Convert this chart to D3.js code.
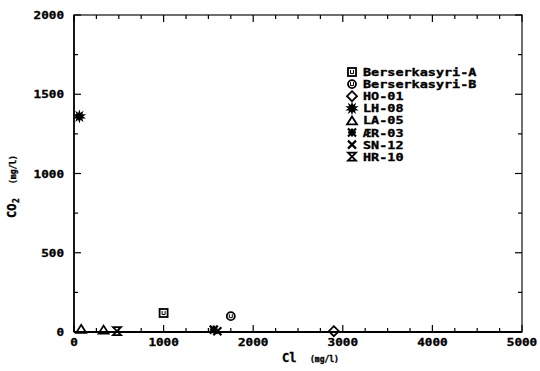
<!DOCTYPE html>
<html>
<head>
<meta charset="utf-8">
<script src="https://cdn.jsdelivr.net/npm/d3@7"></script>
<style>
  body { margin: 0; background: #fff; }
  svg { display: block; overflow: hidden; }
  text { font-family: "DejaVu Sans Mono", "Liberation Mono", monospace; font-weight: bold; fill: #000; stroke: #000; stroke-width: 0.35; }
</style>
</head>
<body>
<svg id="chart" width="540" height="371"></svg>
<script>
// sample names, in legend order
const names = ["Berserkasyri-A", "Berserkasyri-B", "HO-01", "LH-08", "LA-05", "ÆR-03", "SN-12", "HR-10"];
const symbols = ["squareU", "circleU", "diamond", "star", "triangle", "asterisk", "cross", "hourglass"];
// Cl (mg/l) and CO2 (mg/l) per sample
const clVals = [[1000], [1750], [2900], [60], [80, 330], [1560], [1600], [480, 1620]];
const co2Vals = [[120], [100], [5], [1360], [20, 15], [15], [5], [5]];
const xTicks = [0, 1000, 2000, 3000, 4000, 5000];
const yTicks = [0, 500, 1000, 1500, 2000];

const svg = d3.select("#chart");
const L = 74, R = 522, T = 15, B = 332;
const x = d3.scaleLinear().domain([0, 5000]).range([L, R]);
const y = d3.scaleLinear().domain([0, 2000]).range([B, T]);

// frame
svg.append("rect").attr("x", L).attr("y", T).attr("width", R - L).attr("height", B - T)
    .attr("fill", "none").attr("stroke", "#222").attr("stroke-width", 1.3);
svg.append("line").attr("x1", L).attr("x2", R).attr("y1", B).attr("y2", B)
    .attr("stroke", "#000").attr("stroke-width", 2.2);
svg.append("line").attr("x1", L).attr("x2", L).attr("y1", T).attr("y2", B)
    .attr("stroke", "#000").attr("stroke-width", 1.6);

// inward ticks on all four sides
const xMinor = d3.range(0, 5001, 250);
const yMinor = d3.range(0, 2001, 250);
xMinor.forEach(v => {
    const len = v % 1000 === 0 ? 7 : 4;
    svg.append("line").attr("x1", x(v)).attr("x2", x(v)).attr("y1", B).attr("y2", B - len).attr("stroke", "#000").attr("stroke-width", 1.2);
    svg.append("line").attr("x1", x(v)).attr("x2", x(v)).attr("y1", T).attr("y2", T + len).attr("stroke", "#000").attr("stroke-width", 1.2);
});
yMinor.forEach(v => {
    const len = v % 500 === 0 ? 7 : 4;
    svg.append("line").attr("y1", y(v)).attr("y2", y(v)).attr("x1", L).attr("x2", L + len).attr("stroke", "#000").attr("stroke-width", 1.2);
    svg.append("line").attr("y1", y(v)).attr("y2", y(v)).attr("x1", R).attr("x2", R - len).attr("stroke", "#000").attr("stroke-width", 1.2);
});

// tick labels
svg.selectAll(".xl").data(xTicks).enter().append("text")
    .attr("x", d => x(d)).attr("y", 346).attr("text-anchor", "middle")
    .attr("font-size", 11).text(d => d)
    .attr("textLength", d => String(d).length * 7.6).attr("lengthAdjust", "spacingAndGlyphs");
svg.selectAll(".yl").data(yTicks).enter().append("text")
    .attr("x", 64).attr("y", d => y(d) + 4).attr("text-anchor", "end")
    .attr("font-size", 11).text(d => d)
    .attr("textLength", d => String(d).length * 7.6).attr("lengthAdjust", "spacingAndGlyphs");

// axis titles
svg.append("text").attr("x", 282).attr("y", 362).attr("font-size", 12).text("Cl");
svg.append("text").attr("x", 310).attr("y", 362).attr("font-size", 8).text("(mg/l)");
const yt = svg.append("g").attr("transform", "translate(16,0) rotate(-90)");
yt.append("text").attr("x", -218).attr("y", 0).attr("font-size", 12).text("CO");
yt.append("text").attr("x", -203).attr("y", 3).attr("font-size", 8).text("2");
yt.append("text").attr("x", -184).attr("y", 0).attr("font-size", 8).text("(mg/l)");

// marker drawing
function drawMarker(g, type, cx, cy) {
    if (!isFinite(cx) || !isFinite(cy)) return;
    const s = 4;
    const m = g.append("g").attr("class", "mk-" + type).attr("transform", `translate(${cx},${cy})`);
    if (type === "squareU") {
        m.append("rect").attr("x", -s).attr("y", -s).attr("width", 2 * s).attr("height", 2 * s)
            .attr("fill", "none").attr("stroke", "#000").attr("stroke-width", 1.8);
        m.append("path").attr("d", "M-1.5,-2V1.5H1.5V-2").attr("fill", "none").attr("stroke", "#000").attr("stroke-width", 1);
    } else if (type === "circleU") {
        m.append("circle").attr("r", s).attr("fill", "none").attr("stroke", "#000").attr("stroke-width", 1.8);
        m.append("path").attr("d", "M-1.5,-2V1.5H1.5V-2").attr("fill", "none").attr("stroke", "#000").attr("stroke-width", 1);
    } else if (type === "diamond") {
        m.append("path").attr("d", `M0,${-s - 1}L${s + 1},0L0,${s + 1}L${-s - 1},0Z`)
            .attr("fill", "none").attr("stroke", "#000").attr("stroke-width", 1.8);
    } else if (type === "star") {
        const st = d3.symbol().type(d3.symbolStar).size(55)();
        m.append("path").attr("d", st).attr("fill", "#000");
        m.append("path").attr("d", st).attr("fill", "#000").attr("transform", "rotate(36)");
    } else if (type === "triangle") {
        m.append("path").attr("d", `M0,${-s}L${s + 1},${s}L${-s - 1},${s}Z`)
            .attr("fill", "none").attr("stroke", "#000").attr("stroke-width", 1.8);
    } else if (type === "asterisk") {
        m.append("path").attr("d", `M${-s},${-s}L${s},${s}M${s},${-s}L${-s},${s}M${-s},0H${s}M0,${-s}V${s}`)
            .attr("stroke", "#000").attr("stroke-width", 2.2);
    } else if (type === "cross") {
        m.append("path").attr("d", `M${-s},${-s}L${s},${s}M${s},${-s}L${-s},${s}`)
            .attr("stroke", "#000").attr("stroke-width", 2.2);
    } else if (type === "hourglass") {
        m.append("path").attr("d", `M${-s},${-s}H${s}L${-s},${s}H${s}Z`)
            .attr("fill", "none").attr("stroke", "#000").attr("stroke-width", 1.8);
    }
}

// data points
const pts = svg.append("g");
names.forEach((n, i) => {
    clVals[i].forEach((c, j) => drawMarker(pts, symbols[i], x(c), y(co2Vals[i][j])));
});

// legend
const leg = svg.append("g");
names.forEach((n, i) => {
    const ly = 72 + i * 12.1;
    drawMarker(leg, symbols[i], 352, ly);
    leg.append("text").attr("x", 363).attr("y", ly + 4).attr("font-size", 11).text(n)
        .attr("textLength", n.length * 8.1).attr("lengthAdjust", "spacingAndGlyphs");
});
</script>
</body>
</html>
